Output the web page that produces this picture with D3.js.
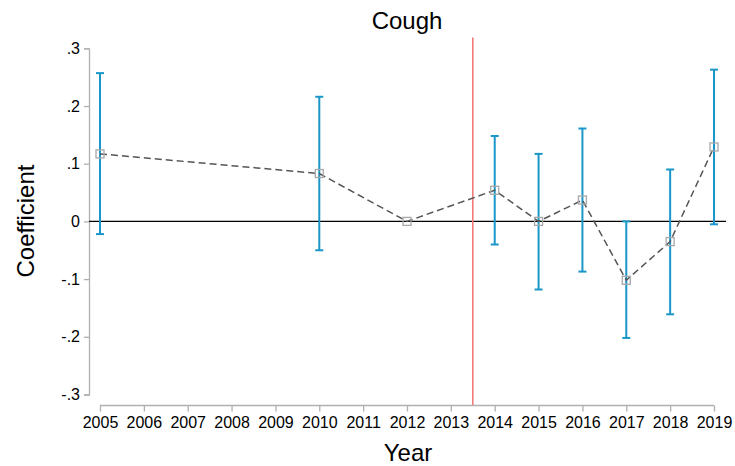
<!DOCTYPE html>
<html><head><meta charset="utf-8">
<script src="https://cdn.jsdelivr.net/npm/d3@7"></script>
<style>body{margin:0;background:#fff;} svg{display:block;} text{font-family:"Liberation Sans",Arial,Helvetica,sans-serif;}</style>
</head><body><svg id="c" width="735" height="466"></svg>
<script>
const years = [2005,2010,2012,2014,2015,2016,2017,2018,2019];
const coef  = [0.117,0.083,0.0,0.054,0.0,0.037,-0.102,-0.035,0.129];
const ciLow = [-0.022,-0.050,null,-0.040,-0.118,-0.087,-0.202,-0.161,-0.005];
const ciHigh= [0.257,0.216,null,0.148,0.117,0.161,0.0,0.090,0.263];
const xTicks = d3.range(2005,2020);
const yTicks = [-0.3,-0.2,-0.1,0,0.1,0.2,0.3];
const yTickLabels = ["-.3","-.2","-.1","0",".1",".2",".3"];
const eventYear = 2013.5;

const svg = d3.select("#c");
const x = d3.scaleLinear().domain([2005,2019]).range([100,714]);
const y = d3.scaleLinear().domain([-0.3,0.3]).range([394.5,48.3]);
const fmt = v => yTickLabels[yTicks.indexOf(v)];

// y axis
const ya = svg.append("g").attr("transform","translate(89,0)")
  .call(d3.axisLeft(y).tickValues(yTicks).tickFormat(fmt).tickSize(5).tickPadding(4));
ya.select(".domain").attr("stroke","#b0b0b0").attr("stroke-width",1.3);
ya.selectAll(".tick line").attr("stroke","#b0b0b0").attr("stroke-width",1.3);
ya.selectAll(".tick text").attr("font-size",16).attr("fill","#000");

// x axis
const xa = svg.append("g").attr("transform","translate(0,405.5)")
  .call(d3.axisBottom(x).tickValues(xTicks).tickFormat(d3.format("d")).tickSize(6).tickPadding(5));
xa.select(".domain").attr("stroke","#b0b0b0").attr("stroke-width",1.3).attr("d","M100,0H714");
xa.selectAll(".tick line").attr("stroke","#b0b0b0").attr("stroke-width",1.3);
xa.selectAll(".tick text").attr("font-size",16).attr("fill","#000");

// zero line
svg.append("line").attr("x1",89).attr("x2",726).attr("y1",y(0)).attr("y2",y(0))
  .attr("stroke","#000").attr("stroke-width",1.3);

// event line
svg.append("line").attr("x1",x(eventYear)).attr("x2",x(eventYear)).attr("y1",37.5).attr("y2",405)
  .attr("stroke","#f07a7a").attr("stroke-width",1.6);

// error bars
const eb = years.map((yr,i)=>({yr,lo:ciLow[i],hi:ciHigh[i]})).filter(d=>d.lo!==null);
const blue = "#1a97c8";
const g = svg.append("g");
g.selectAll("line.v").data(eb).join("line").attr("x1",d=>x(d.yr)).attr("x2",d=>x(d.yr))
  .attr("y1",d=>y(d.lo)).attr("y2",d=>y(d.hi)).attr("stroke",blue).attr("stroke-width",2);
["lo","hi"].forEach(k=>{
  g.selectAll("line.c"+k).data(eb).join("line").attr("x1",d=>x(d.yr)-4).attr("x2",d=>x(d.yr)+4)
    .attr("y1",d=>y(d[k])).attr("y2",d=>y(d[k])).attr("stroke",blue).attr("stroke-width",2);
});

// dashed line
const pts = years.map((yr,i)=>[yr,coef[i]]);
svg.append("path").datum(pts).attr("fill","none").attr("stroke","#555").attr("stroke-width",1.5)
  .attr("stroke-dasharray","7,4")
  .attr("d",d3.line().x(d=>x(d[0])).y(d=>y(d[1])));

// markers
svg.selectAll("rect.m").data(pts).join("rect")
  .attr("x",d=>x(d[0])-4).attr("y",d=>y(d[1])-4).attr("width",8).attr("height",8)
  .attr("fill","none").attr("stroke","#a8a8a8").attr("stroke-width",1.3);

// titles
svg.append("text").attr("x",407).attr("y",29).attr("text-anchor","middle").attr("font-size",24).text("Cough");
svg.append("text").attr("x",408).attr("y",461).attr("text-anchor","middle").attr("font-size",24).text("Year");
svg.append("text").attr("transform","translate(34,221) rotate(-90)").attr("text-anchor","middle").attr("font-size",24).text("Coefficient");
</script></body></html>
